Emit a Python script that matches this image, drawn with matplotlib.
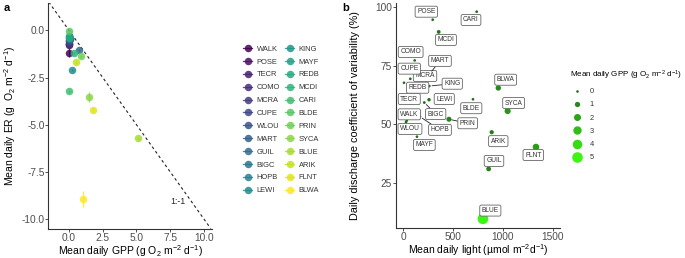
import numpy as np
import matplotlib
matplotlib.use("Agg")
import matplotlib.pyplot as plt
from matplotlib.lines import Line2D
from matplotlib.colors import LinearSegmentedColormap

plt.rcParams['font.family'] = ['Liberation Sans', 'DejaVu Sans']
plt.rcParams['mathtext.fontset'] = 'custom'
plt.rcParams['mathtext.rm'] = 'Liberation Sans'
plt.rcParams['mathtext.it'] = 'Liberation Sans:italic'
plt.rcParams['axes.unicode_minus'] = False

# site data
sites = ["WALK", "POSE", "TECR", "COMO", "MCRA", "CUPE", "WLOU", "MART",
         "GUIL", "BIGC", "HOPB", "LEWI", "KING", "MAYF", "REDB", "MCDI",
         "CARI", "BLDE", "PRIN", "SYCA", "BLUE", "ARIK", "FLNT", "BLWA"]
gpp = [0.02, 0.03, 0.02, 0.02, 0.03, 0.02, 0.02, 0.05, 0.77, 0.05, 0.04, 0.25,
       0.02, 0.02, 0.03, 0.37, 0.03, 0.02, 0.89, 1.48, 5.13, 0.52, 1.75, 1.06]
gpp_sd = [0.03, 0.02, 0.02, 0.02, 0.02, 0.02, 0.02, 0.03, 0.05, 0.03, 0.03, 0.04,
          0.02, 0.02, 0.02, 0.05, 0.02, 0.02, 0.06, 0.06, 0.08, 0.05, 0.06, 0.07]
er = [-1.18, -0.80, -0.75, -0.70, -0.65, -0.55, -0.50, -0.45, -1.06, -0.45,
      -0.40, -2.12, -0.35, -0.30, -0.38, -1.20, -3.23, -0.05, -1.37, -3.53,
      -5.73, -1.69, -4.22, -8.96]
er_sd = [0.22, 0.05, 0.05, 0.05, 0.05, 0.05, 0.05, 0.05, 0.06, 0.05, 0.05, 0.06,
         0.05, 0.05, 0.05, 0.06, 0.08, 0.04, 0.08, 0.28, 0.1, 0.08, 0.08, 0.42]
light = [37, 298, 100, 117, 73, 10, 30, 271, 859, 214, 170, 261, 264, 140, 240,
         358, 739, 702, 461, 1050, 802, 890, 1334, 956]
cv = [51.6, 94.5, 61.5, 77.2, 69.4, 67.7, 51.0, 71.7, 31.1, 59.3, 53.3, 60.5,
      66.3, 44.8, 66.0, 89.3, 97.9, 60.7, 52.2, 55.7, 9.9, 46.7, 40.4, 65.5]
# label box positions for panel b
lab_x = [63, 234, 63, 77, 221, 63, 70, 371, 913, 328, 371, 414, 494, 214, 147,
         431, 682, 685, 649, 1110, 876, 956, 1307, 1030]
lab_y = [54.3, 97.9, 60.8, 80.8, 70.6, 73.7, 48.1, 77.0, 34.5, 54.4, 47.7, 60.8,
         67.3, 41.3, 65.6, 85.9, 94.4, 56.9, 50.5, 59.1, 13.4, 42.9, 37.0, 69.0]
linked = ["MART", "KING", "BIGC", "HOPB", "PRIN"]
size_levels = [0, 1, 2, 3, 4, 5]

fig = plt.figure(figsize=(6.85, 2.58), dpi=100)
ax1 = fig.add_axes([0.0708, 0.1124, 0.2387, 0.876])
ax2 = fig.add_axes([0.5777, 0.1163, 0.2398, 0.8721])

tick_col = '#4D4D4D'
for ax in (ax1, ax2):
    for s in ('top', 'right'):
        ax.spines[s].set_visible(False)
    for s in ('left', 'bottom'):
        ax.spines[s].set_linewidth(0.8)
        ax.spines[s].set_color('#333333')
    ax.tick_params(labelsize=7.3, colors='#333333', labelcolor=tick_col,
                   length=2, width=0.6, pad=0.8)

# panel a
colors = plt.cm.viridis(np.linspace(0, 1, len(sites)))
ax1.plot([-1.5, 10.5], [1.5, -10.5], ls=(0, (2.5, 2.5)), color='#222222', lw=0.8)
for i, s in enumerate(sites):
    ax1.errorbar(gpp[i], er[i], xerr=gpp_sd[i], yerr=er_sd[i], fmt='o',
                 color=colors[i], ms=5.4, elinewidth=0.9, alpha=0.85,
                 mec='none', label=s)
ax1.text(8.1, -9.05, '1:-1', fontsize=6.3, color='#222222', ha='center', va='center')
ax1.set_xlim(-1.52, 10.6)
ax1.set_ylim(-10.53, 1.45)
ax1.set_xticks([0, 2.5, 5, 7.5, 10])
ax1.set_xticklabels(['0.0', '2.5', '5.0', '7.5', '10.0'])
ax1.set_yticks([-10, -7.5, -5, -2.5, 0])
ax1.set_yticklabels(['-10.0', '-7.5', '-5.0', '-2.5', '0.0'])
ax1.set_xlabel(r'Mean daily GPP (g O$_2$ m$^{-2}$ d$^{-1}$)', fontsize=7.5, labelpad=0.3)
ax1.set_ylabel(r'Mean daily ER (g  O$_2$ m$^{-2}$ d$^{-1}$)', fontsize=7.5, labelpad=2.5)

handles = [Line2D([0], [0], marker='o', color=colors[i], ms=5.4, lw=0.9,
                  mec='none', alpha=0.85) for i in range(len(sites))]
fig.legend(handles, sites, loc='upper left', bbox_to_anchor=(0.345, 0.85),
           ncol=2, frameon=False, fontsize=5.4, handlelength=1.2,
           handletextpad=0.6, columnspacing=0.7, labelspacing=0.75,
           labelcolor='#333333')

# panel b
gcmap = LinearSegmentedColormap.from_list('g', ['#1F6E1A', '#3CF514'])


def psize(g):
    d_px = 2 * np.sqrt(1.3 ** 2 + (5.3 ** 2 - 1.3 ** 2) * np.asarray(g) / 5)
    return (d_px * 0.72) ** 2


g_arr = np.array(gpp)
ax2.scatter(light, cv, s=psize(g_arr), c=g_arr, cmap=gcmap, vmin=0, vmax=5,
            zorder=2, linewidths=0)
for i, s in enumerate(sites):
    ap = None
    if s in linked:
        ap = dict(arrowstyle='-', color='#222222', lw=0.6, shrinkA=0, shrinkB=2)
    ax2.annotate(s, xy=(light[i], cv[i]), xytext=(lab_x[i], lab_y[i]),
                 fontsize=4.8, color='#333333', ha='center', va='center',
                 zorder=3, arrowprops=ap,
                 bbox=dict(boxstyle='round,pad=0.3,rounding_size=0.25',
                           fc='white', ec='#666666', lw=0.6))
ax2.set_xlim(-73, 1575)
ax2.set_ylim(6, 101.6)
ax2.set_xticks([0, 500, 1000, 1500])
ax2.set_yticks([25, 50, 75, 100])
ax2.set_xlabel('Mean daily light (µmol m$^{-2}$d$^{-1}$)', fontsize=7.5, labelpad=0.3)
ax2.set_ylabel('Daily discharge coefficient of variability (%)', fontsize=7.8,
               labelpad=11)

size_handles = [Line2D([0], [0], marker='o', ls='none', mec='none',
                       color=gcmap(v / 5), ms=np.sqrt(psize(v)))
                for v in size_levels]
fig.legend(size_handles, [str(v) for v in size_levels], loc='upper left',
           bbox_to_anchor=(0.822, 0.76), frameon=False, fontsize=5.4,
           title=r'Mean daily GPP (g O$_2$ m$^{-2}$ d$^{-1}$)', title_fontsize=5.8,
           handletextpad=0.6, labelspacing=0.8, alignment='left',
           labelcolor='#333333')

fig.text(0.006, 0.97, 'a', fontsize=8, fontweight='bold', va='center')
fig.text(0.499, 0.97, 'b', fontsize=8, fontweight='bold', va='center')

fig.savefig('out.png', dpi=100)
